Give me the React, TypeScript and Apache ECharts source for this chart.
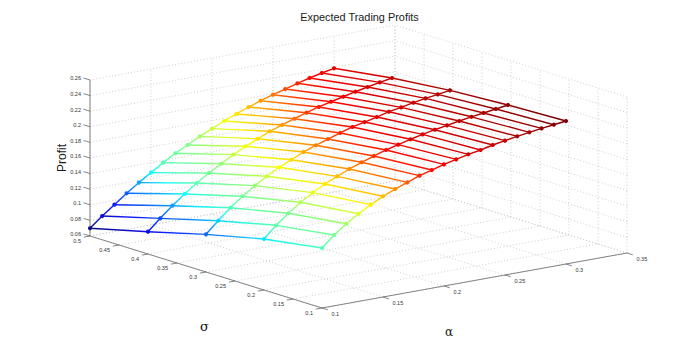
import React, { useEffect, useRef } from "react";
import * as echarts from "echarts";

const alphas = [0.1, 0.11, 0.12, 0.13, 0.14, 0.15, 0.16, 0.17, 0.18, 0.19, 0.2, 0.21, 0.22, 0.23, 0.24, 0.25, 0.26, 0.27, 0.28, 0.29, 0.3];
const sigmas = [0.5, 0.4, 0.3, 0.2, 0.1];
const profitS50 = [0.0699, 0.0828, 0.0945, 0.1063, 0.1171, 0.1271, 0.1371, 0.1463, 0.1541, 0.1624, 0.1694, 0.1764, 0.1826, 0.1887, 0.194, 0.1988, 0.2033, 0.2078, 0.2118, 0.2154, 0.2186];
const profitS40 = [0.0886, 0.1029, 0.1163, 0.1285, 0.1397, 0.1497, 0.1588, 0.1676, 0.1755, 0.1824, 0.1891, 0.1944, 0.1996, 0.2045, 0.209, 0.2129, 0.2165, 0.2201, 0.2233, 0.2265, 0.2292];
const profitS30 = [0.1083, 0.1229, 0.1368, 0.1486, 0.1594, 0.1686, 0.1773, 0.1842, 0.1913, 0.1971, 0.2023, 0.2072, 0.2121, 0.2156, 0.2192, 0.2232, 0.226, 0.2291, 0.2319, 0.2342, 0.2365];
const profitS20 = [0.1254, 0.1401, 0.1527, 0.164, 0.1735, 0.1818, 0.1888, 0.1954, 0.2012, 0.2064, 0.2113, 0.2153, 0.2194, 0.2229, 0.226, 0.2288, 0.2315, 0.2341, 0.2362, 0.2385, 0.2408];
const profitS10 = [0.1369, 0.1508, 0.1624, 0.1724, 0.1812, 0.1891, 0.1956, 0.2014, 0.2071, 0.2115, 0.216, 0.2196, 0.2232, 0.2259, 0.2295, 0.2322, 0.235, 0.2373, 0.2396, 0.2414, 0.2433];
const profitRows = [profitS50, profitS40, profitS30, profitS20, profitS10];

const alphaTicks = ["0.1", "0.15", "0.2", "0.25", "0.3", "0.35"];
const sigmaTicks = ["0.1", "0.15", "0.2", "0.25", "0.3", "0.35", "0.4", "0.45", "0.5"];
const profitTicks = ["0.06", "0.08", "0.1", "0.12", "0.14", "0.16", "0.18", "0.2", "0.22", "0.24", "0.26"];

const A0 = 0.1, A1 = 0.35, S0 = 0.1, S1 = 0.5, Z0 = 0.06, Z1 = 0.26;
const FONT = '"Liberation Sans", Arial, sans-serif';

// Orthographic view of the 3-D box onto the hidden 2-D axes.
function project(a: number, s: number, z: number): [number, number] {
  const x = 90 + (S1 - s) * 580 + (a - A0) * 1220;
  const y = 236 + (S1 - s) * 180 - (a - A0) * 220 - (z - Z0) * 780;
  return [x, y];
}

function jet(z: number): string {
  const zMin = profitS50[0];
  const zMax = profitS10[profitS10.length - 1];
  const t0 = (z - zMin) / (zMax - zMin);
  const t = t0 + 0.06 * Math.exp(-(((t0 - 0.38) / 0.08) ** 2)) + 0.05 * Math.exp(-(((t0 - 0.82) / 0.08) ** 2));
  const pale = t < 0.6 ? 0.05 : 0;
  const ramp = (v: number) => {
    const c = Math.max(0, Math.min(1, 1.5 - Math.abs(4 * v)));
    return Math.round(255 * (c + (1 - c) * pale));
  };
  return `rgb(${ramp(t - 0.75)},${ramp(t - 0.5)},${ramp(t - 0.25)})`;
}

const gridSegs: number[][] = [];
alphaTicks.map(Number).forEach((a) => {
  gridSegs.push([a, S0, Z0, a, S1, Z0]);
  gridSegs.push([a, S1, Z0, a, S1, Z1]);
});
sigmaTicks.map(Number).forEach((s) => {
  gridSegs.push([A0, s, Z0, A1, s, Z0]);
  gridSegs.push([A1, s, Z0, A1, s, Z1]);
});
profitTicks.map(Number).forEach((z) => {
  gridSegs.push([A0, S1, z, A1, S1, z]);
  gridSegs.push([A1, S0, z, A1, S1, z]);
});

const axisSegs: number[][] = [
  [A0, S1, Z0, A0, S1, Z1],
  [A0, S0, Z0, A0, S1, Z0],
  [A0, S0, Z0, A1, S0, Z0],
];
profitTicks.map(Number).forEach((z) => axisSegs.push([A0, S1, z, A0, S1 + 0.0112, z]));
sigmaTicks.map(Number).forEach((s) => axisSegs.push([A0, s, Z0, A0 - 0.005, s, Z0]));
alphaTicks.map(Number).forEach((a) => axisSegs.push([a, S0, Z0, a, S0 - 0.01, Z0]));

const meshSegs: number[][] = [];
const meshPoints: number[][] = [];
sigmas.forEach((s, i) => {
  alphas.forEach((a, j) => {
    const z = profitRows[i][j];
    meshPoints.push([a, s, z]);
    if (j + 1 < alphas.length) meshSegs.push([a, s, z, alphas[j + 1], s, profitRows[i][j + 1]]);
    if (i + 1 < sigmas.length) meshSegs.push([a, s, z, a, sigmas[i + 1], profitRows[i + 1][j]]);
  });
});

const tickLabels: { text: string; a: number; s: number; z: number; dx: number; dy: number; align: string }[] = [
  ...profitTicks.map((t) => ({ text: t, a: A0, s: S1, z: Number(t), dx: -9, dy: -1.7, align: "right" })),
  ...sigmaTicks.map((t) => ({ text: t, a: A0, s: Number(t), z: Z0, dx: -9, dy: 5, align: "right" })),
  ...alphaTicks.map((t) => ({ text: t, a: Number(t), s: S0, z: Z0, dx: 9.5, dy: 5.5, align: "left" })),
];

function segmentSeries(data: number[][], style: (v: number[]) => any) {
  return {
    type: "custom",
    coordinateSystem: "cartesian2d",
    silent: true,
    clip: false,
    data,
    renderItem: (_p: any, api: any) => {
      const v = [0, 1, 2, 3, 4, 5].map((i) => api.value(i));
      const p1 = api.coord(project(v[0], v[1], v[2]));
      const p2 = api.coord(project(v[3], v[4], v[5]));
      return {
        type: "line",
        shape: { x1: p1[0], y1: p1[1], x2: p2[0], y2: p2[1] },
        style: style(v.concat(p1, p2)),
      };
    },
  };
}

export default function App() {
  const ref = useRef<HTMLDivElement>(null);
  useEffect(() => {
    const chart = echarts.init(ref.current!, undefined, { renderer: "svg" });
    chart.setOption({
      animation: false,
      backgroundColor: "#ffffff",
      grid: { left: 0, right: 0, top: 0, bottom: 0 },
      xAxis: { type: "value", min: 0, max: 692, show: false },
      yAxis: { type: "value", min: 0, max: 346, inverse: true, show: false },
      graphic: [
        { type: "text", x: 359.5, y: 17, style: { text: "Expected Trading Profits", font: `10.9px ${FONT}`, fill: "#1a1a1a", align: "center", verticalAlign: "middle" } },
        { type: "text", x: 61.5, y: 158, rotation: Math.PI / 2, style: { text: "Profit", font: `12px ${FONT}`, fill: "#1a1a1a", align: "center", verticalAlign: "middle" } },
        { type: "text", x: 204.5, y: 326, style: { text: "σ", font: `13px "DejaVu Serif", serif`, fill: "#111111", align: "center", verticalAlign: "middle" } },
        { type: "text", x: 449, y: 332, style: { text: "α", font: `12px "DejaVu Serif", serif`, fill: "#1a1a1a", align: "center", verticalAlign: "middle" } },
      ],
      series: [
        segmentSeries(gridSegs, () => ({ stroke: "#c4c4c4", lineWidth: 0.8, lineDash: [1, 2.2], fill: null })),
        segmentSeries(axisSegs, () => ({ stroke: "#666666", lineWidth: 0.8, fill: null })),
        segmentSeries(meshSegs, (v) => {
          const mid = (v[2] + v[5]) / 2;
          return {
            lineWidth: 1.4,
            fill: null,
            stroke: new echarts.graphic.LinearGradient(v[6], v[7], v[8] + 0.01, v[9] + 0.01, [
              { offset: 0, color: jet(v[2]) },
              { offset: 0.5, color: jet(mid) },
              { offset: 1, color: jet(v[5]) },
            ], true),
          };
        }),
        {
          type: "custom",
          coordinateSystem: "cartesian2d",
          silent: true,
          clip: false,
          data: meshPoints,
          renderItem: (_p: any, api: any) => {
            const z = api.value(2);
            const c = api.coord(project(api.value(0), api.value(1), z));
            return { type: "circle", shape: { cx: c[0], cy: c[1], r: 2.1 }, style: { fill: jet(z) } };
          },
        },
        {
          type: "custom",
          coordinateSystem: "cartesian2d",
          silent: true,
          clip: false,
          data: tickLabels.map((_, i) => [i]),
          renderItem: (params: any, api: any) => {
            const l = tickLabels[params.dataIndex];
            const c = api.coord(project(l.a, l.s, l.z));
            return {
              type: "text",
              x: c[0] + l.dx,
              y: c[1] + l.dy,
              style: { text: l.text, font: `5.5px ${FONT}`, fill: "#333333", align: l.align, verticalAlign: "middle" },
            };
          },
        },
      ],
    });
    return () => chart.dispose();
  }, []);
  return <div ref={ref} style={{ position: "absolute", left: 0, top: 0, width: 692, height: 346 }} />;
}
